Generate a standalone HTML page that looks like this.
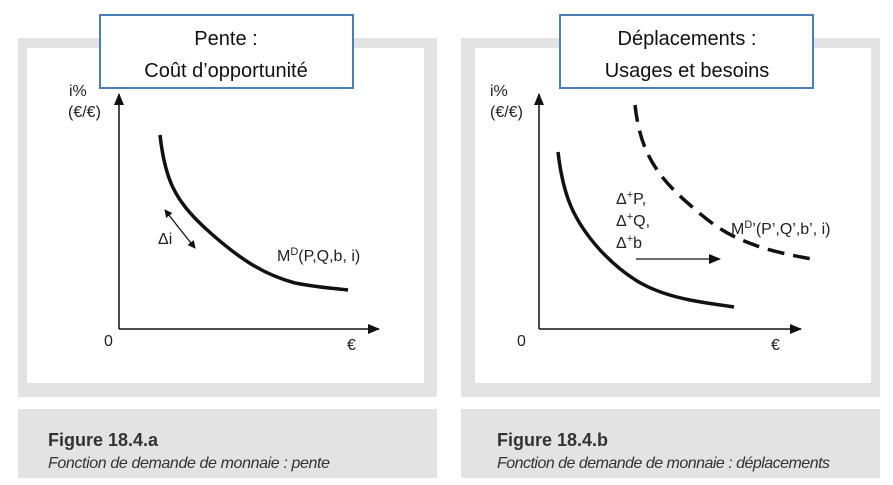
<!DOCTYPE html>
<html><head><meta charset="utf-8"><style>
body{margin:0;width:893px;height:485px;background:#fff;overflow:hidden}
svg{display:block}
</style></head><body>
<svg width="893" height="485" xmlns="http://www.w3.org/2000/svg" font-family="Liberation Sans, sans-serif">
<defs>
<marker id="a" markerWidth="8" markerHeight="8" refX="7" refY="4" orient="auto" markerUnits="userSpaceOnUse"><path d="M0,0 L8,4 L0,8 z" fill="#111"/></marker>
<marker id="b" markerWidth="12" markerHeight="10" refX="11" refY="5" orient="auto" markerUnits="userSpaceOnUse"><path d="M0,0 L12,5 L0,10 z" fill="#111"/></marker>
</defs>
<!-- Left panel -->
<rect x="18" y="38" width="419" height="359" fill="#e3e3e3"/>
<rect x="27" y="48" width="397" height="335" fill="#fff"/>
<rect x="18" y="409" width="419" height="69" fill="#e3e3e3"/>
<line x1="119" y1="329" x2="119" y2="94" stroke="#111" stroke-width="1.5" marker-end="url(#b)"/>
<line x1="119" y1="329" x2="379" y2="329" stroke="#111" stroke-width="1.5" marker-end="url(#b)"/>
<text x="69" y="96" font-size="16" fill="#222">i%</text>
<text x="68" y="117" font-size="16" fill="#222">(€/€)</text>
<text x="104" y="346" font-size="16" fill="#222">0</text>
<text x="347" y="350" font-size="16" fill="#222">€</text>
<path d="M160,135 C165,180 175,200 205,228 C240,260 265,275 295,283 C315,287 330,288 348,290" fill="none" stroke="#111" stroke-width="3.5"/>
<line x1="179" y1="228" x2="165" y2="210" stroke="#111" stroke-width="1.3" marker-end="url(#a)"/>
<line x1="179" y1="228" x2="195" y2="248" stroke="#111" stroke-width="1.3" marker-end="url(#a)"/>
<text x="158" y="244" font-size="16" fill="#222">Δi</text>
<text x="277" y="261" font-size="16" fill="#222">M<tspan font-size="11" dy="-6">D</tspan><tspan dy="6">(P,Q,b, i)</tspan></text>
<text x="48" y="446" font-size="18" font-weight="bold" fill="#333">Figure 18.4.a</text>
<text x="48" y="468" font-size="16" font-style="italic" fill="#333" textLength="282">Fonction de demande de monnaie : pente</text>
<rect x="100" y="15" width="253" height="73" fill="#fff" stroke="#4a7ebb" stroke-width="2"/>
<text x="226" y="45" font-size="20" text-anchor="middle" fill="#111">Pente :</text>
<text x="226" y="77" font-size="20" text-anchor="middle" fill="#111">Coût d’opportunité</text>
<!-- Right panel -->
<rect x="461" y="38" width="419" height="359" fill="#e3e3e3"/>
<rect x="475" y="48" width="396" height="335" fill="#fff"/>
<rect x="461" y="409" width="419" height="69" fill="#e3e3e3"/>
<line x1="539" y1="329" x2="539" y2="94" stroke="#111" stroke-width="1.5" marker-end="url(#b)"/>
<line x1="539" y1="329" x2="801" y2="329" stroke="#111" stroke-width="1.5" marker-end="url(#b)"/>
<text x="490" y="96" font-size="16" fill="#222">i%</text>
<text x="490" y="117" font-size="16" fill="#222">(€/€)</text>
<text x="517" y="346" font-size="16" fill="#222">0</text>
<text x="771" y="350" font-size="16" fill="#222">€</text>
<path d="M558,152 C563,195 573,220 600,250 C630,282 655,293 690,300 C710,304 722,305 734,307" fill="none" stroke="#111" stroke-width="3.5"/>
<path d="M635,105 C640,150 655,175 690,205 C720,232 735,238 760,247 C780,253 795,256 812,259" fill="none" stroke="#111" stroke-width="3.5" stroke-dasharray="17,9"/>
<text x="616" y="204" font-size="16" fill="#222">Δ<tspan font-size="11" dy="-6">+</tspan><tspan dy="6">P,</tspan></text>
<text x="616" y="226" font-size="16" fill="#222">Δ<tspan font-size="11" dy="-6">+</tspan><tspan dy="6">Q,</tspan></text>
<text x="616" y="248" font-size="16" fill="#222">Δ<tspan font-size="11" dy="-6">+</tspan><tspan dy="6">b</tspan></text>
<line x1="636" y1="259" x2="720" y2="259" stroke="#111" stroke-width="1.3" marker-end="url(#b)"/>
<text x="731" y="234" font-size="16" fill="#222">M<tspan font-size="11" dy="-6">D</tspan><tspan dy="6">’(P’,Q’,b’, i)</tspan></text>
<text x="497" y="446" font-size="18" font-weight="bold" fill="#333">Figure 18.4.b</text>
<text x="497" y="468" font-size="16" font-style="italic" fill="#333" textLength="333">Fonction de demande de monnaie : déplacements</text>
<rect x="560" y="15" width="253" height="73" fill="#fff" stroke="#4a7ebb" stroke-width="2"/>
<text x="687" y="45" font-size="20" text-anchor="middle" fill="#111">Déplacements :</text>
<text x="687" y="77" font-size="20" text-anchor="middle" fill="#111">Usages et besoins</text>
</svg>
</body></html>
